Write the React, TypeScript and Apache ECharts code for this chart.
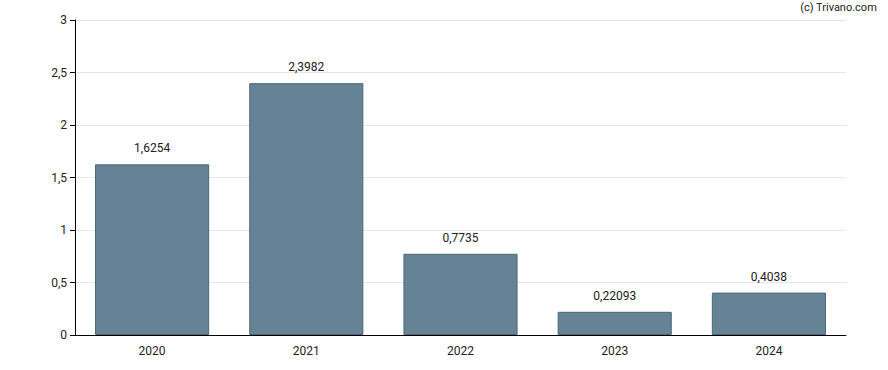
import React, { useEffect, useRef } from "react";
import * as echarts from "echarts";

const categories = ["2020", "2021", "2022", "2023", "2024"];
const values = [1.6254, 2.3982, 0.7735, 0.22093, 0.4038];
const valueLabels = ["1,6254", "2,3982", "0,7735", "0,22093", "0,4038"];

export default function App() {
  const ref = useRef<HTMLDivElement>(null);
  useEffect(() => {
    document.body.style.margin = "0";
    const chart = echarts.init(ref.current!, null, { renderer: "svg" });
    const font = "Roboto, Arial, sans-serif";
    chart.setOption({
      animation: false,
      textStyle: { fontFamily: font },
      grid: { left: 75, right: 42, top: 20, bottom: 35 },
      graphic: [
        {
          type: "text",
          right: 11,
          top: 2,
          style: { text: "(c) Trivano.com", fontSize: 11, fontFamily: font, fill: "#222" },
        },
      ],
      xAxis: {
        type: "category",
        data: categories,
        axisLine: { lineStyle: { color: "#000", width: 1 } },
        axisTick: { alignWithLabel: true, length: 5, lineStyle: { color: "#000" } },
        axisLabel: { color: "#222", fontSize: 12, margin: 10, fontFamily: font },
      },
      yAxis: {
        type: "value",
        min: 0,
        max: 3,
        interval: 0.5,
        axisLine: { show: true, lineStyle: { color: "#000", width: 1 } },
        axisTick: { show: true, length: 5, lineStyle: { color: "#000" } },
        axisLabel: {
          color: "#222",
          fontSize: 12,
          margin: 8,
          fontFamily: font,
          formatter: (v: number) => String(v).replace(".", ","),
        },
        splitLine: { lineStyle: { color: "#e6e6e6", width: 1 } },
      },
      series: [
        {
          type: "bar",
          data: values,
          barCategoryGap: "26%",
          itemStyle: { color: "#668396", borderColor: "#4b6679", borderWidth: 1 },
          label: {
            show: true,
            position: "top",
            distance: 10,
            color: "#222",
            fontSize: 12,
            fontFamily: font,
            formatter: (p: any) => valueLabels[p.dataIndex],
          },
        },
      ],
    });
    return () => chart.dispose();
  }, []);
  return <div ref={ref} style={{ width: 888, height: 370 }} />;
}
